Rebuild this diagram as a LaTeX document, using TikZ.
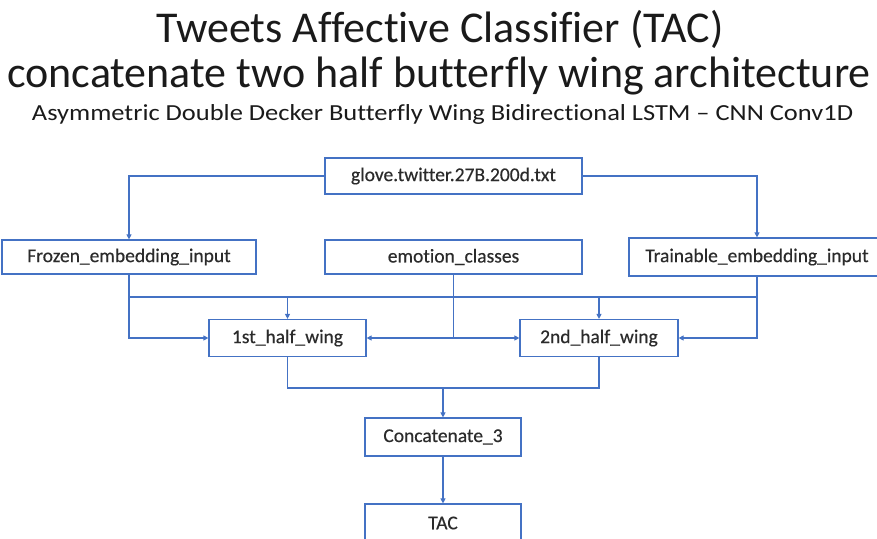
\documentclass[tikz,border=0pt]{standalone}
\usepackage{fontspec}
\setmainfont{Carlito}[Ligatures={TeX,NoCommon}]
\newfontfamily\boxfont[FakeBold=0.4,Ligatures={TeX,NoCommon}]{Carlito}
\usetikzlibrary{arrows.meta}
\definecolor{lineblue}{HTML}{4472C4}
\definecolor{txt}{HTML}{2B2B2B}
\definecolor{ttl}{HTML}{1A1A1A}
\tikzset{
  box/.style={draw=lineblue, line width=1.2pt, fill=white, inner sep=0pt, text=txt,
    font=\boxfont\fontsize{19.5}{21}\selectfont, minimum height=36pt},
  conn/.style={draw=lineblue, line width=1.1pt},
  arr/.style={conn, -{Triangle[length=5pt,width=5pt]}},
  titlefont/.style={text=ttl, inner sep=0pt, anchor=base}
}
\begin{document}
\begin{tikzpicture}[x=1pt,y=-1pt]
\useasboundingbox (0,0) rectangle (877,538);
% titles
\node[titlefont, font=\fontsize{44}{46}\selectfont] (t1) at (440,42) {Tweets Affective Classifier (TAC)};
\node[titlefont, font=\fontsize{44}{46}\selectfont] (t2) at (439,87) {concatenate two half butterfly wing architecture};
\node[titlefont, font=\fontsize{23}{25}\selectfont, xscale=1.15] (t3) at (442.5,120) {Asymmetric Double Decker Butterfly Wing Bidirectional LSTM -- CNN Conv1D};
% boxes
\node[box, minimum width=257pt] (glove) at (453.5,176) {glove.twitter.27B.200d.txt};
\node[box, minimum width=254pt, minimum height=34pt] (frozen) at (129,257) {Frozen\_embedding\_input};
\node[box, minimum width=257pt, minimum height=34pt] (emo) at (453.5,257) {emotion\_classes};
\node[box, minimum width=256pt, minimum height=38pt] (train) at (757,257) {Trainable\_embedding\_input};
\node[box, minimum width=157pt, minimum height=37pt] (w1) at (287.5,338) {1st\_half\_wing};
\node[box, minimum width=158pt, minimum height=37pt] (w2) at (599,338) {2nd\_half\_wing};
\node[box, minimum width=156pt, minimum height=38pt] (concat) at (443,437) {Concatenate\_3};
\node[box, minimum width=156pt, minimum height=38pt] (tac) at (443,523) {TAC};
% coordinates
\coordinate (bus) at (0,297);
\coordinate (merge) at (0,388);
% connectors
\draw[arr] (glove.west) -| (frozen.north);
\draw[arr] (glove.east) -| (train.north);
\draw[arr] (frozen.south) |- (w1.west);
\draw[arr] (train.south) |- (w2.east);
\draw[conn] (frozen.south |- bus) -- (train.south |- bus);
\draw[arr] (w1.north |- bus) -- (w1.north);
\draw[arr] (w2.north |- bus) -- (w2.north);
\draw[arr] (emo.south) |- (w1.east);
\draw[arr] (emo.south) |- (w2.west);
\draw[conn] (w1.south) -- (w1.south |- merge) -- (w2.south |- merge) -- (w2.south);
\draw[arr] (concat.north |- merge) -- (concat.north);
\draw[arr] (concat) -- (tac);
\end{tikzpicture}
\end{document}
